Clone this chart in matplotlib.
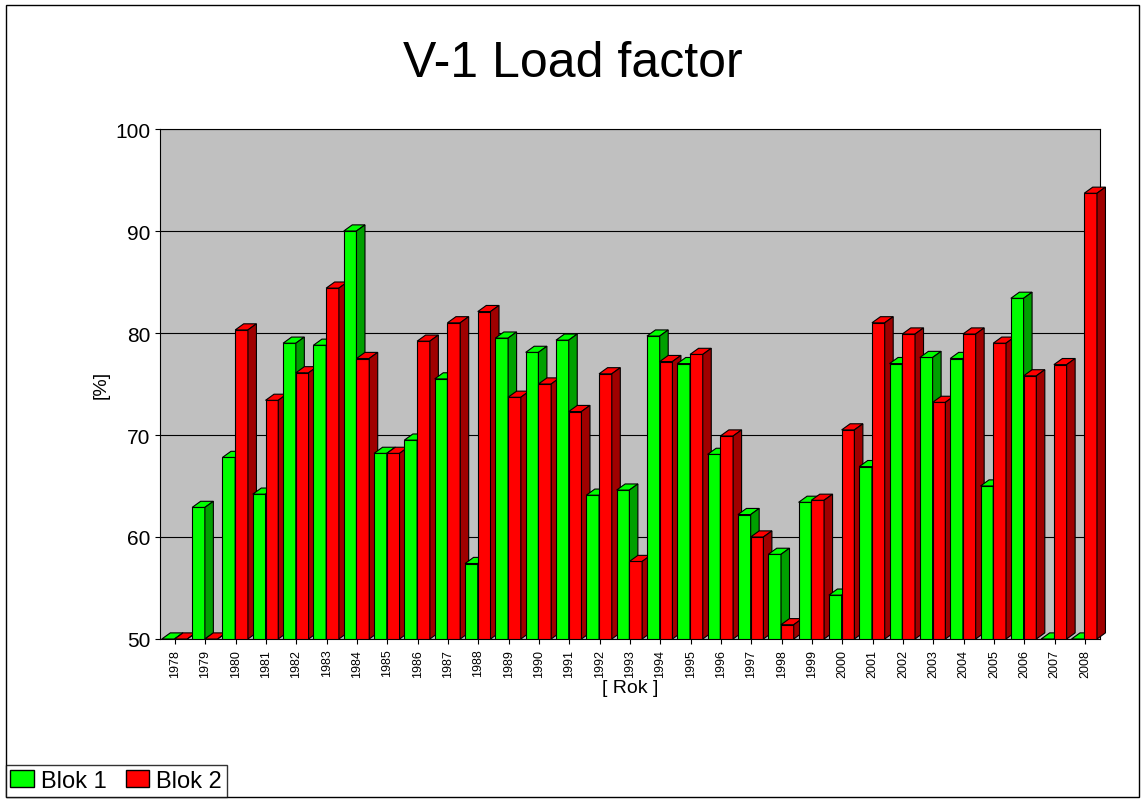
import numpy as np
import matplotlib.pyplot as plt
from matplotlib.patches import Polygon, Rectangle

plt.rcParams['font.family'] = 'Liberation Sans'

years = [str(y) for y in range(1978, 2009)]
blok1 = [50, 62.9, 67.8, 64.2, 79.0, 78.8, 90.0, 68.2, 69.5, 75.5, 57.4, 79.5, 78.1, 79.3,
         64.1, 64.6, 79.7, 77.0, 68.1, 62.2, 58.3, 63.4, 54.3, 66.9, 77.0, 77.6, 77.5,
         65.0, 83.4, 50, 50]
blok2 = [50, 50, 80.3, 73.4, 76.1, 84.4, 77.5, 68.2, 79.2, 81.0, 82.1, 73.7, 75.0, 72.3,
         76.0, 57.6, 77.2, 77.9, 69.9, 60.0, 51.4, 63.6, 70.5, 81.0, 79.9, 73.2, 79.9,
         79.0, 75.8, 76.9, 93.7]

fig = plt.figure(figsize=(11.45, 8.04), dpi=100)
fig.patches.append(Rectangle((0.005, 0.008), 0.99, 0.985, transform=fig.transFigure,
                             fill=False, edgecolor='black', linewidth=1))
ax = fig.add_axes([160 / 1145, 164 / 804, 940 / 1145, 510 / 804])
ax.set_facecolor('#c0c0c0')
ax.set_xlim(-0.5, 30.5)
ax.set_ylim(50, 100)
ax.yaxis.grid(True, color='black', linewidth=0.8)
ax.set_axisbelow(True)

w = 0.42
dx, dy = 0.28, 0.6


def bar3d(x, v, front, side):
    ax.bar(x, v - 50, bottom=50, width=w, align='edge', color=front,
           edgecolor='black', linewidth=0.8, zorder=3)
    ax.add_patch(Polygon([(x, v), (x + w, v), (x + w + dx, v + dy), (x + dx, v + dy)],
                         closed=True, facecolor=front, edgecolor='black', linewidth=0.8,
                         zorder=3, clip_on=False))
    ax.add_patch(Polygon([(x + w, 50), (x + w + dx, 50 + dy), (x + w + dx, v + dy), (x + w, v)],
                         closed=True, facecolor=side, edgecolor='black', linewidth=0.8,
                         zorder=3, clip_on=False))


for i in range(len(years)):
    bar3d(i - w - 0.02, blok1[i], '#00ff00', '#00a000')
    bar3d(i - 0.02, blok2[i], '#ff0000', '#a00000')

ax.set_xticks(np.arange(len(years)))
ax.set_xticklabels(years, rotation=90, fontsize=9)
ax.set_yticks([50, 60, 70, 80, 90, 100])
ax.tick_params(axis='y', labelsize=15)
ax.set_xlabel('[ Rok ]', fontsize=14, labelpad=2)
ax.set_ylabel('[%]', fontsize=14)
fig.text(0.5, 0.92, 'V-1 Load factor', ha='center', va='center', fontsize=36)

handles = [Rectangle((0, 0), 1, 1, facecolor='#00ff00', edgecolor='black'),
           Rectangle((0, 0), 1, 1, facecolor='#ff0000', edgecolor='black')]
fig.legend(handles, ['Blok 1', 'Blok 2'], loc='lower left', bbox_to_anchor=(0.005, 0.008),
           ncol=2, fontsize=17, frameon=True, fancybox=False, edgecolor='black',
           handlelength=1.0, handletextpad=0.3, columnspacing=0.8, borderpad=0.2,
           borderaxespad=0)

fig.savefig('out.png', dpi=100)
